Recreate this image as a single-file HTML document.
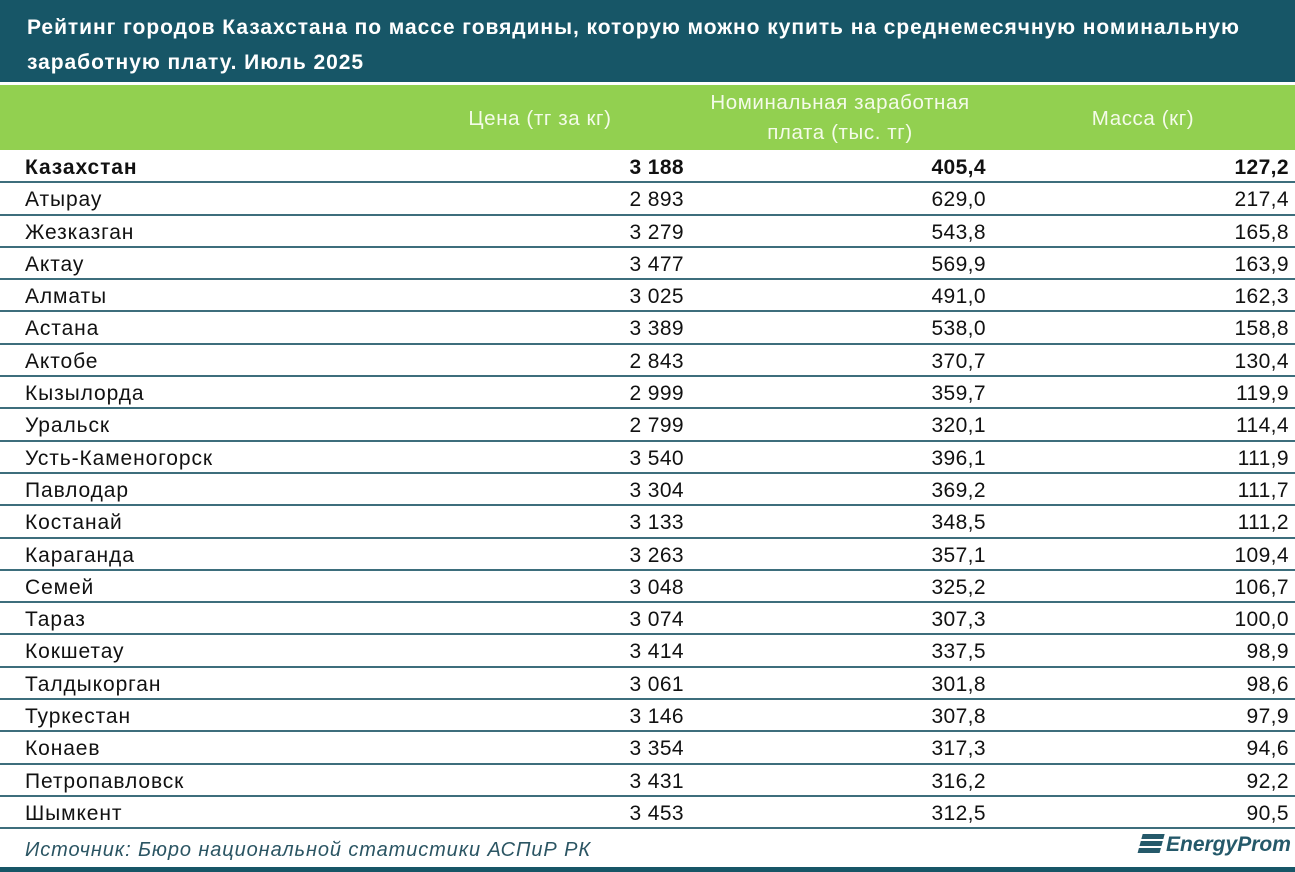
<!DOCTYPE html>
<html><head><meta charset="utf-8"><style>
body{margin:0;width:1295px;height:872px;background:#fff;position:relative;overflow:hidden;font-family:"Liberation Sans",sans-serif;}
.title{position:absolute;left:0;top:0;width:1295px;height:82px;background:#175667;color:#fff;font-weight:bold;font-size:21px;letter-spacing:0.95px;line-height:35px;padding:10px 0 0 27px;box-sizing:border-box;white-space:nowrap;}
.head{position:absolute;left:0;top:85px;width:1295px;height:65px;background:#92d050;color:#f4fbe9;font-size:20.5px;letter-spacing:0.6px;}
.head div{position:absolute;text-align:center;line-height:30px;}
.rows{position:absolute;left:0;top:151px;width:1295px;}
.r{height:32.3px;border-bottom:2px solid #3d6e7c;box-sizing:border-box;position:relative;font-size:21px;color:#111;}
.r span{position:absolute;top:5px;}
.r .n{left:25px;letter-spacing:0.9px}.r .a{right:611px;letter-spacing:0.4px}.r .b{right:309px;letter-spacing:0.4px}.r .c{right:6px;letter-spacing:0.4px}
.r.k{font-weight:bold}
.src{position:absolute;left:25px;top:839px;font-style:italic;font-size:20px;letter-spacing:0.9px;color:#2b5563;}
.logo{position:absolute;left:1140px;top:833px;font-style:italic;font-weight:bold;font-size:21px;color:#25596a;}
.bar{position:absolute;left:0;top:867px;width:1295px;height:5px;background:#175667;}
</style></head><body>
<div class="title">Рейтинг городов Казахстана по массе говядины, которую можно купить на среднемесячную номинальную<br>заработную плату. Июль 2025</div>
<div class="head">
<div style="left:440px;width:200px;top:19px">Цена (тг за кг)</div>
<div style="left:670px;width:340px;top:3px">Номинальная заработная<br>плата (тыс. тг)</div>
<div style="left:1043px;width:200px;top:19px">Масса (кг)</div>
</div>
<div class="rows">
<div class="r k"><span class="n">Казахстан</span><span class="a">3 188</span><span class="b">405,4</span><span class="c">127,2</span></div>
<div class="r"><span class="n">Атырау</span><span class="a">2 893</span><span class="b">629,0</span><span class="c">217,4</span></div>
<div class="r"><span class="n">Жезказган</span><span class="a">3 279</span><span class="b">543,8</span><span class="c">165,8</span></div>
<div class="r"><span class="n">Актау</span><span class="a">3 477</span><span class="b">569,9</span><span class="c">163,9</span></div>
<div class="r"><span class="n">Алматы</span><span class="a">3 025</span><span class="b">491,0</span><span class="c">162,3</span></div>
<div class="r"><span class="n">Астана</span><span class="a">3 389</span><span class="b">538,0</span><span class="c">158,8</span></div>
<div class="r"><span class="n">Актобе</span><span class="a">2 843</span><span class="b">370,7</span><span class="c">130,4</span></div>
<div class="r"><span class="n">Кызылорда</span><span class="a">2 999</span><span class="b">359,7</span><span class="c">119,9</span></div>
<div class="r"><span class="n">Уральск</span><span class="a">2 799</span><span class="b">320,1</span><span class="c">114,4</span></div>
<div class="r"><span class="n">Усть-Каменогорск</span><span class="a">3 540</span><span class="b">396,1</span><span class="c">111,9</span></div>
<div class="r"><span class="n">Павлодар</span><span class="a">3 304</span><span class="b">369,2</span><span class="c">111,7</span></div>
<div class="r"><span class="n">Костанай</span><span class="a">3 133</span><span class="b">348,5</span><span class="c">111,2</span></div>
<div class="r"><span class="n">Караганда</span><span class="a">3 263</span><span class="b">357,1</span><span class="c">109,4</span></div>
<div class="r"><span class="n">Семей</span><span class="a">3 048</span><span class="b">325,2</span><span class="c">106,7</span></div>
<div class="r"><span class="n">Тараз</span><span class="a">3 074</span><span class="b">307,3</span><span class="c">100,0</span></div>
<div class="r"><span class="n">Кокшетау</span><span class="a">3 414</span><span class="b">337,5</span><span class="c">98,9</span></div>
<div class="r"><span class="n">Талдыкорган</span><span class="a">3 061</span><span class="b">301,8</span><span class="c">98,6</span></div>
<div class="r"><span class="n">Туркестан</span><span class="a">3 146</span><span class="b">307,8</span><span class="c">97,9</span></div>
<div class="r"><span class="n">Конаев</span><span class="a">3 354</span><span class="b">317,3</span><span class="c">94,6</span></div>
<div class="r"><span class="n">Петропавловск</span><span class="a">3 431</span><span class="b">316,2</span><span class="c">92,2</span></div>
<div class="r"><span class="n">Шымкент</span><span class="a">3 453</span><span class="b">312,5</span><span class="c">90,5</span></div>
</div>
<div class="src">Источник: Бюро национальной статистики АСПиР РК</div>
<div class="logo"><span style="display:inline-block;width:22px;height:20px;vertical-align:-3px;background:repeating-linear-gradient(#25596a 0 5px,transparent 5px 7px);transform:skewX(-15deg);margin-right:4px"></span>EnergyProm</div>
<div class="bar"></div>
</body></html>
